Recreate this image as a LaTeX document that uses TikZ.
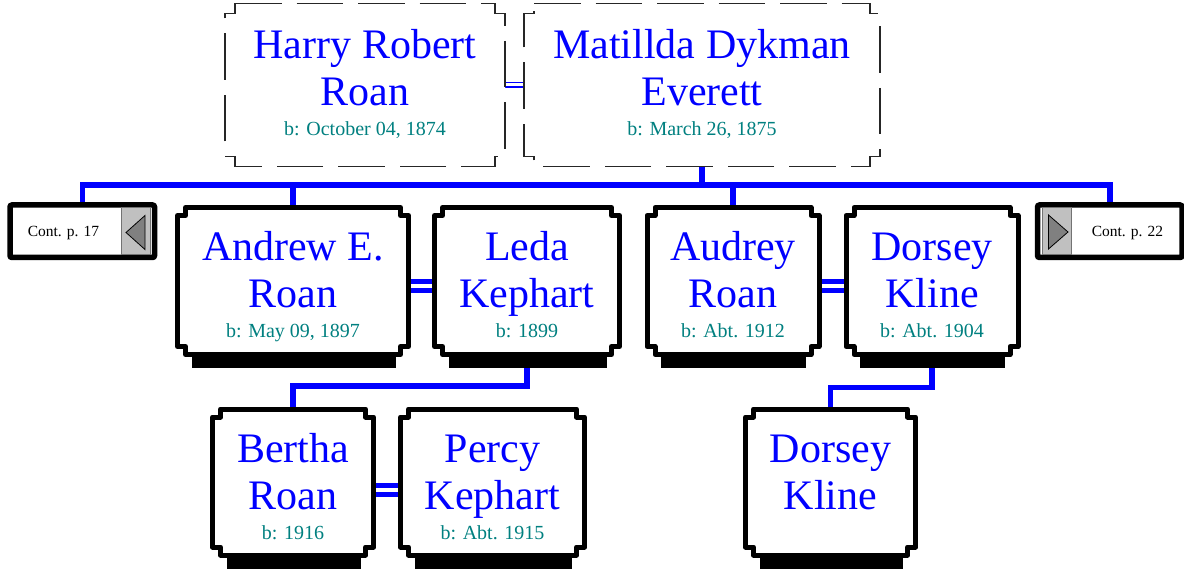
\documentclass[tikz,border=0pt]{standalone}
\usepackage{fontspec}
\setmainfont{Liberation Serif}
\definecolor{datecol}{RGB}{0,128,128}
\definecolor{nameblue}{RGB}{0,0,255}
\definecolor{contgray}{RGB}{192,192,192}
\definecolor{arrowgray}{RGB}{128,128,128}
\tikzset{
  pbox/.style={rectangle, draw=none, inner sep=0pt, outer sep=0pt},
  boxline/.style={line width=5pt, fill=white, draw=black, line join=round},
  dashline/.style={line width=1.3pt, draw=black!85, fill=white, dash pattern=on 46.5pt off 15pt},
  conn/.style={draw=nameblue, line width=5.5pt},
  couple/.style={draw=nameblue, line width=5pt, double=white, double distance=4pt},
  thincouple/.style={draw=nameblue, line width=1.5pt, double=white, double distance=3pt},
  nametxt/.style={text=nameblue, font=\fontsize{42}{47}\selectfont, inner sep=0pt, anchor=base},
  datetxt/.style={text=datecol, font=\fontsize{20}{24}\selectfont, inner sep=0pt, anchor=base},
  conttxt/.style={text=black, font=\fontsize{15.5}{18}\selectfont, inner sep=0pt, anchor=base},
  contbox/.style={line width=5.5pt, draw=black, fill=white, rounded corners=2pt},
  contfill/.style={fill=contgray, draw=black!55, line width=0.6pt},
  arrowtri/.style={fill=arrowgray, draw=black, line width=0.8pt, line join=miter},
}
\newcommand\famnotch[3]{%
  \path[#1] ([xshift=#3]#2.north west) -- ([xshift=-#3]#2.north east) -- ([xshift=-#3,yshift=-#3]#2.north east) -- ([yshift=-#3]#2.north east) -- ([yshift=#3]#2.south east) -- ([xshift=-#3,yshift=#3]#2.south east) -- ([xshift=-#3]#2.south east) -- ([xshift=#3]#2.south west) -- ([xshift=#3,yshift=#3]#2.south west) -- ([yshift=#3]#2.south west) -- ([yshift=-#3]#2.north west) -- ([xshift=#3,yshift=-#3]#2.north west) -- cycle;}
\newcommand\famshadow[1]{%
  \fill[black] ([xshift=14pt]#1.south west) rectangle ([xshift=-13pt,yshift=-13.5pt]#1.south east);}
\newcommand\famtext[5]{% node, line1, line2, date, top offset
  \node[nametxt] (#1-a) at ([yshift=-#5pt]#1.north) {#2};
  \node[nametxt] (#1-b) at ([yshift=-#5pt-47pt]#1.north) {#3};
  \node[datetxt] (#1-c) at ([yshift=-#5pt-77pt]#1.north) {#4};}
\begin{document}
\begin{tikzpicture}[x=1pt,y=-1pt]
\fill[white] (0,0) rectangle (1184,572);
\useasboundingbox (0,0) rectangle (1184,572);
% frames
\node[pbox, minimum width=280pt, minimum height=163pt] (harry) at (365,85) {};
\node[pbox, minimum width=356pt, minimum height=163pt] (matillda) at (702,85) {};
\node[pbox, minimum width=231pt, minimum height=147pt] (andrew) at (293,281) {};
\node[pbox, minimum width=185pt, minimum height=147pt] (leda) at (527,281) {};
\node[pbox, minimum width=172pt, minimum height=147pt] (audrey) at (733,281) {};
\node[pbox, minimum width=172pt, minimum height=147pt] (dorsey) at (932,281) {};
\node[pbox, minimum width=161pt, minimum height=146pt] (bertha) at (293,482) {};
\node[pbox, minimum width=184pt, minimum height=146pt] (percy) at (492.5,482) {};
\node[pbox, minimum width=170pt, minimum height=146pt] (dkid) at (830.5,482) {};
\node[pbox, minimum width=144.5pt, minimum height=52.5pt] (cont17) at (82.25,231.25) {};
\node[pbox, minimum width=144.5pt, minimum height=52.5pt] (cont22) at (1109.75,231.25) {};
\coordinate (bar) at (0,185);
\coordinate (kidbarA) at (0,386);
\coordinate (kidbarB) at (0,387.5);
% connectors
\draw[conn] (cont17.north) |- (cont22.north |- bar) -- (cont22.north);
\draw[conn] (matillda.south) -- (matillda.south |- bar);
\draw[conn] (andrew.north) -- (andrew.north |- bar);
\draw[conn] (audrey.north) -- (audrey.north |- bar);
\draw[conn] (leda.south) -- (leda.south |- kidbarA) -| (bertha.north);
\draw[conn] (dorsey.south) -- (dorsey.south |- kidbarB) -| (dkid.north);
\draw[thincouple] (harry.east) -- (matillda.west);
\draw[couple] ([yshift=-5pt]andrew.east) -- ([yshift=-5pt]leda.west);
\draw[couple] ([yshift=-5pt]audrey.east) -- ([yshift=-5pt]dorsey.west);
\draw[couple] ([yshift=-7.5pt]bertha.east) -- ([yshift=-7.5pt]percy.west);
% boxes
\famnotch{dashline}{harry}{10pt}
\famnotch{dashline}{matillda}{10pt}
\foreach \n in {andrew,leda,audrey,dorsey,bertha,percy,dkid}{
  \famshadow{\n}
  \famnotch{boxline}{\n}{8pt}
}
% continuation boxes
\path[contbox] (cont17.north west) rectangle (cont17.south east);
\path[contfill] (121.7,207.8) rectangle (149.8,254.7);
\path[arrowtri] (126,232.5) -- (145,215.5) -- (145,249.5) -- cycle;
\node[conttxt] (cont17-t) at (63.5,236.7) {Cont. p. 17};
\path[contbox] (cont22.north west) rectangle (cont22.south east);
\path[contfill] (1042.5,207.8) rectangle (1071.7,254.7);
\path[arrowtri] (1068,232) -- (1048.5,215) -- (1048.5,249) -- cycle;
\node[conttxt] (cont22-t) at (1127.5,236.7) {Cont. p. 22};
% texts
\famtext{harry}{Harry Robert}{Roan}{b: October 04, 1874}{55}
\famtext{matillda}{Matillda Dykman}{Everett}{b: March 26, 1875}{55}
\famtext{andrew}{Andrew E.}{Roan}{b: May 09, 1897}{53}
\famtext{leda}{Leda}{Kephart}{b: 1899}{53}
\famtext{audrey}{Audrey}{Roan}{b: Abt. 1912}{53}
\famtext{dorsey}{Dorsey}{Kline}{b: Abt. 1904}{53}
\famtext{bertha}{Bertha}{Roan}{b: 1916}{53}
\famtext{percy}{Percy}{Kephart}{b: Abt. 1915}{53}
\node[nametxt] (dkid-a) at ([yshift=-53pt]dkid.north) {Dorsey};
\node[nametxt] (dkid-b) at ([yshift=-100pt]dkid.north) {Kline};
\end{tikzpicture}
\end{document}
